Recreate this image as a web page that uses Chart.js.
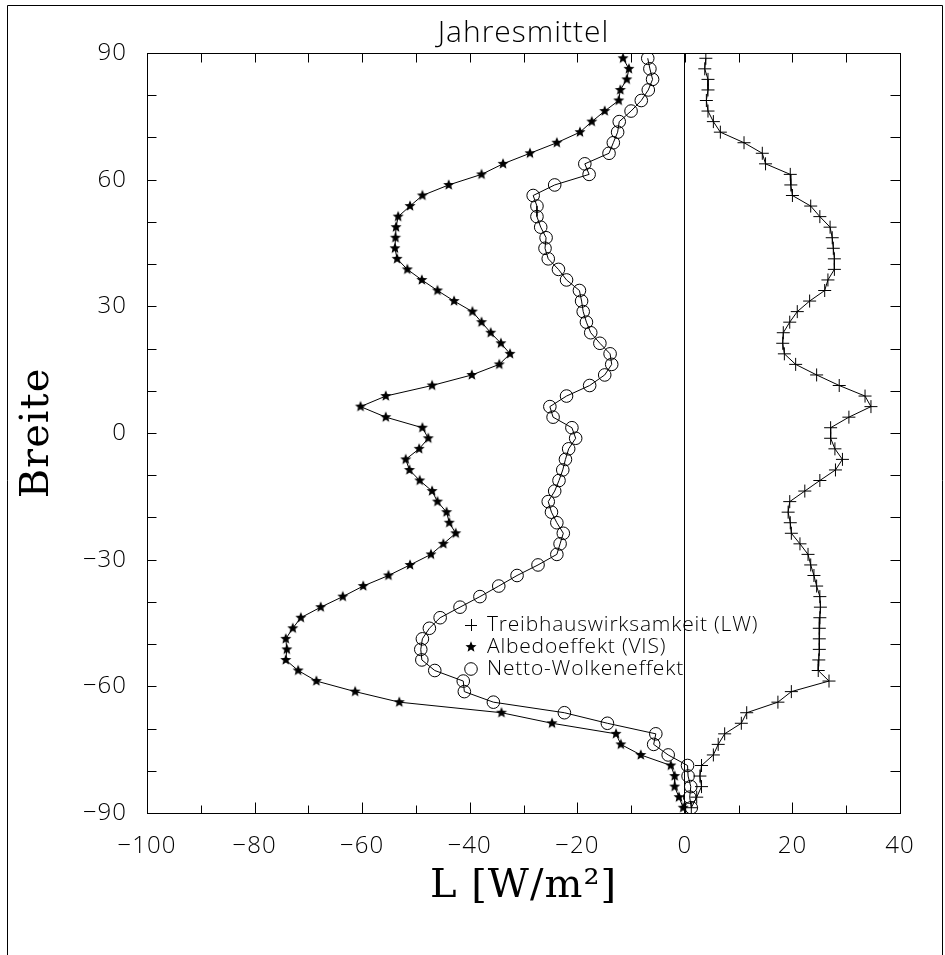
<!DOCTYPE html>
<html>
<head>
<meta charset="utf-8">
<script src="https://cdn.jsdelivr.net/npm/chart.js@4.4.1/dist/chart.umd.min.js"></script>
<style>
  html, body { margin: 0; padding: 0; background: #fff; }
  #wrap { position: relative; width: 945px; height: 955px; }
</style>
</head>
<body>
<div id="wrap"><canvas id="chart" width="945" height="955"></canvas></div>
<script>
// latitude of every point (deg)
const latitudes = [
  88.75, 86.25, 83.75, 81.25, 78.75, 76.25, 73.75, 71.25, 68.75, 66.25, 63.75, 61.25,
  58.75, 56.25, 53.75, 51.25, 48.75, 46.25, 43.75, 41.25, 38.75, 36.25, 33.75, 31.25,
  28.75, 26.25, 23.75, 21.25, 18.75, 16.25, 13.75, 11.25, 8.75, 6.25, 3.75, 1.25,
  -1.25, -3.75, -6.25, -8.75, -11.25, -13.75, -16.25, -18.75, -21.25, -23.75, -26.25, -28.75,
  -31.25, -33.75, -36.25, -38.75, -41.25, -43.75, -46.25, -48.75, -51.25, -53.75, -56.25, -58.75,
  -61.25, -63.75, -66.25, -68.75, -71.25, -73.75, -76.25, -78.75, -81.25, -83.75, -86.25, -88.75
];

// W/m2
const treibhaus = [
  3.9, 3.7, 4.3, 4.3, 4.0, 4.3, 5.3, 6.6, 11.0, 14.4, 15.0, 19.6,
  19.7, 20.0, 23.4, 25.1, 27.0, 27.4, 27.6, 27.8, 27.8, 26.6, 26.0, 23.2,
  20.9, 19.5, 18.3, 18.2, 18.5, 20.6, 24.5, 28.7, 33.5, 34.6, 30.5, 27.1,
  27.1, 27.9, 29.3, 28.0, 25.1, 22.3, 19.5, 19.2, 19.6, 19.8, 21.4, 22.9,
  23.4, 24.0, 24.5, 25.1, 25.2, 25.1, 25.0, 25.0, 25.0, 24.9, 24.8, 26.8,
  19.8, 17.3, 11.5, 10.5, 7.4, 6.2, 5.3, 3.1, 2.8, 3.1, 2.2, 1.2
];
const albedo = [
  -11.5, -10.4, -10.8, -12.0, -12.3, -14.9, -17.3, -19.5, -23.8, -28.8, -33.8, -37.8,
  -43.9, -48.8, -51.1, -53.3, -53.7, -53.8, -53.9, -53.5, -51.6, -48.9, -46.0, -42.9,
  -39.5, -37.8, -36.1, -34.2, -32.5, -34.5, -39.6, -47.0, -55.6, -60.3, -55.6, -48.8,
  -47.7, -49.4, -51.9, -51.2, -49.3, -47.0, -46.0, -44.3, -43.8, -42.6, -44.9, -47.2,
  -51.1, -55.1, -59.8, -63.6, -67.7, -71.4, -72.9, -74.2, -74.0, -74.2, -71.9, -68.5,
  -61.3, -53.1, -34.1, -24.7, -12.8, -11.9, -8.2, -2.6, -1.9, -1.9, -1.1, -0.3
];
const netto = [
  -6.9, -6.5, -6.0, -6.8, -8.1, -10.0, -12.2, -12.5, -13.3, -14.1, -18.6, -17.8,
  -24.2, -28.2, -27.5, -27.5, -26.8, -25.8, -26.0, -25.4, -23.5, -22.0, -19.6, -19.2,
  -18.9, -18.3, -17.5, -15.8, -13.9, -13.6, -14.9, -17.7, -22.0, -25.1, -24.5, -21.0,
  -20.3, -21.6, -22.2, -22.7, -23.4, -24.2, -25.4, -24.8, -23.8, -22.6, -23.2, -23.8,
  -27.3, -31.2, -34.6, -38.1, -41.8, -45.5, -47.5, -48.8, -49.1, -48.9, -46.5, -41.2,
  -41.0, -35.6, -22.4, -14.4, -5.4, -5.8, -3.1, 0.5, 0.6, 1.1, 0.9, 1.2
];

const seriesNames = ['Treibhauswirksamkeit (LW)', 'Albedoeffekt (VIS)', 'Netto-Wolkeneffekt'];
const xTicks = [-100, -80, -60, -40, -20, 0, 20, 40];
const yTicks = [-90, -60, -30, 0, 30, 60, 90];

const LIGHT = "'Open Sans', Roboto, Lato, sans-serif";
const SERIF = "'DejaVu Serif', 'Liberation Serif', serif";

function toPoints(values) {
  return values.map((v, i) => ({ x: v, y: latitudes[i] }));
}

function minus(v) {
  return v < 0 ? '\u2212' + Math.abs(v) : String(v);
}

// filled five-pointed star used as marker
function makeStar(r) {
  const c = document.createElement('canvas');
  const size = Math.ceil(r * 2 + 2);
  c.width = c.height = size;
  const g = c.getContext('2d');
  g.fillStyle = '#000';
  g.beginPath();
  for (let i = 0; i < 10; i++) {
    const rad = i % 2 ? r * 0.45 : r;
    const a = -Math.PI / 2 + i * Math.PI / 5;
    g.lineTo(size / 2 + rad * Math.cos(a), size / 2 + rad * Math.sin(a));
  }
  g.closePath();
  g.fill();
  return c;
}
const starImg = makeStar(5.8);

const framePlugin = {
  id: 'frame',
  beforeDraw(chart) {
    const ctx = chart.ctx;
    ctx.save();
    ctx.fillStyle = '#fff';
    ctx.fillRect(0, 0, chart.width, chart.height);
    ctx.restore();
    // the plotter font is widely spaced
    ctx.letterSpacing = '1px';
  },
  afterDraw(chart) {
    const { ctx, chartArea: a, scales } = chart;
    ctx.save();
    ctx.strokeStyle = '#000';
    ctx.lineWidth = 1;

    // outer figure frame
    ctx.beginPath();
    ctx.moveTo(7.5, chart.height);
    ctx.lineTo(7.5, 5.5);
    ctx.lineTo(942.5, 5.5);
    ctx.lineTo(942.5, chart.height);
    ctx.stroke();

    // plot box
    const L = Math.round(a.left) + 0.5, R = Math.round(a.right) + 0.5;
    const T = Math.round(a.top) + 0.5, B = Math.round(a.bottom) + 0.5;
    ctx.strokeRect(L, T, R - L, B - T);

    // inward ticks
    ctx.beginPath();
    for (let v = scales.x.min; v <= scales.x.max; v += 10) {
      const px = Math.round(scales.x.getPixelForValue(v)) + 0.5;
      const len = v % 20 === 0 ? 11 : 8;
      ctx.moveTo(px, B); ctx.lineTo(px, B - len);
      ctx.moveTo(px, T); ctx.lineTo(px, T + 9);
    }
    for (let v = scales.y.min; v <= scales.y.max; v += 10) {
      const py = Math.round(scales.y.getPixelForValue(v)) + 0.5;
      ctx.moveTo(L, py); ctx.lineTo(L + 9, py);
      ctx.moveTo(R, py); ctx.lineTo(R - 10, py);
    }
    ctx.stroke();

    // legend inside the plot
    const symX = 471, textX = 487, rowY = [625, 647, 669];
    ctx.font = '300 21px ' + LIGHT;
    ctx.letterSpacing = '0.8px';
    ctx.fillStyle = '#000';
    ctx.textBaseline = 'middle';
    chart.data.datasets.forEach((ds, i) => {
      const y = rowY[i];
      ctx.beginPath();
      if (i === 0) {
        ctx.moveTo(symX - 6, y + 0.5); ctx.lineTo(symX + 6, y + 0.5);
        ctx.moveTo(symX + 0.5, y - 6); ctx.lineTo(symX + 0.5, y + 6);
        ctx.stroke();
      } else if (i === 1) {
        ctx.drawImage(starImg, symX - starImg.width / 2, y - starImg.height / 2);
      } else {
        ctx.arc(symX, y, 6.3, 0, Math.PI * 2);
        ctx.stroke();
      }
      ctx.fillText(ds.label, textX, y);
    });
    ctx.restore();
  }
};

const lineStyle = {
  showLine: true,
  borderColor: '#000',
  borderWidth: 1,
  pointBorderColor: '#000',
  pointBorderWidth: 1
};

new Chart(document.getElementById('chart'), {
  type: 'scatter',
  data: {
    datasets: [
      Object.assign({ label: seriesNames[0], data: toPoints(treibhaus),
        pointStyle: 'cross', pointRadius: 6.5, pointBackgroundColor: '#000' }, lineStyle),
      Object.assign({ label: seriesNames[1], data: toPoints(albedo),
        pointStyle: starImg, pointRadius: 5.8 }, lineStyle),
      Object.assign({ label: seriesNames[2], data: toPoints(netto),
        pointStyle: 'circle', pointRadius: 6.3, pointBackgroundColor: 'rgba(0,0,0,0)' }, lineStyle)
    ]
  },
  options: {
    responsive: false,
    animation: false,
    devicePixelRatio: 1,
    layout: { padding: { left: 0, right: 45, top: 0, bottom: 0 } },
    plugins: {
      legend: { display: false },
      tooltip: { enabled: false },
      title: {
        display: true,
        fullSize: false,
        text: 'Jahresmittel',
        color: '#000',
        font: { family: LIGHT, size: 30, weight: 300 },
        padding: { top: 15, bottom: 2 }
      }
    },
    scales: {
      x: {
        type: 'linear',
        position: 'bottom',
        min: -100,
        max: 40,
        afterBuildTicks: s => { s.ticks = xTicks.map(v => ({ value: v })); },
        afterFit: s => { s.height = 142; },
        ticks: {
          padding: 19,
          color: '#000',
          font: { family: LIGHT, size: 24, weight: 300 },
          callback: v => minus(v)
        },
        grid: {
          drawTicks: false,
          lineWidth: 1,
          color: c => (c.tick && c.tick.value === 0 ? '#000' : 'rgba(0,0,0,0)')
        },
        border: { display: false },
        title: {
          display: true,
          text: 'L [W/m\u00b2]',
          color: '#000',
          font: { family: SERIF, size: 40 },
          padding: { top: 0, bottom: 44 }
        }
      },
      y: {
        type: 'linear',
        position: 'left',
        min: -90,
        max: 90,
        afterBuildTicks: s => { s.ticks = yTicks.map(v => ({ value: v })); },
        afterFit: s => { s.width = 147; },
        ticks: {
          padding: 20,
          color: '#000',
          font: { family: LIGHT, size: 24, weight: 300 },
          callback: v => minus(v)
        },
        grid: { display: false, drawTicks: false },
        border: { display: false },
        title: {
          display: true,
          text: 'Breite',
          color: '#000',
          font: { family: SERIF, size: 40 },
          padding: { top: 14, bottom: 0 }
        }
      }
    }
  },
  plugins: [framePlugin]
});
</script>
</body>
</html>
